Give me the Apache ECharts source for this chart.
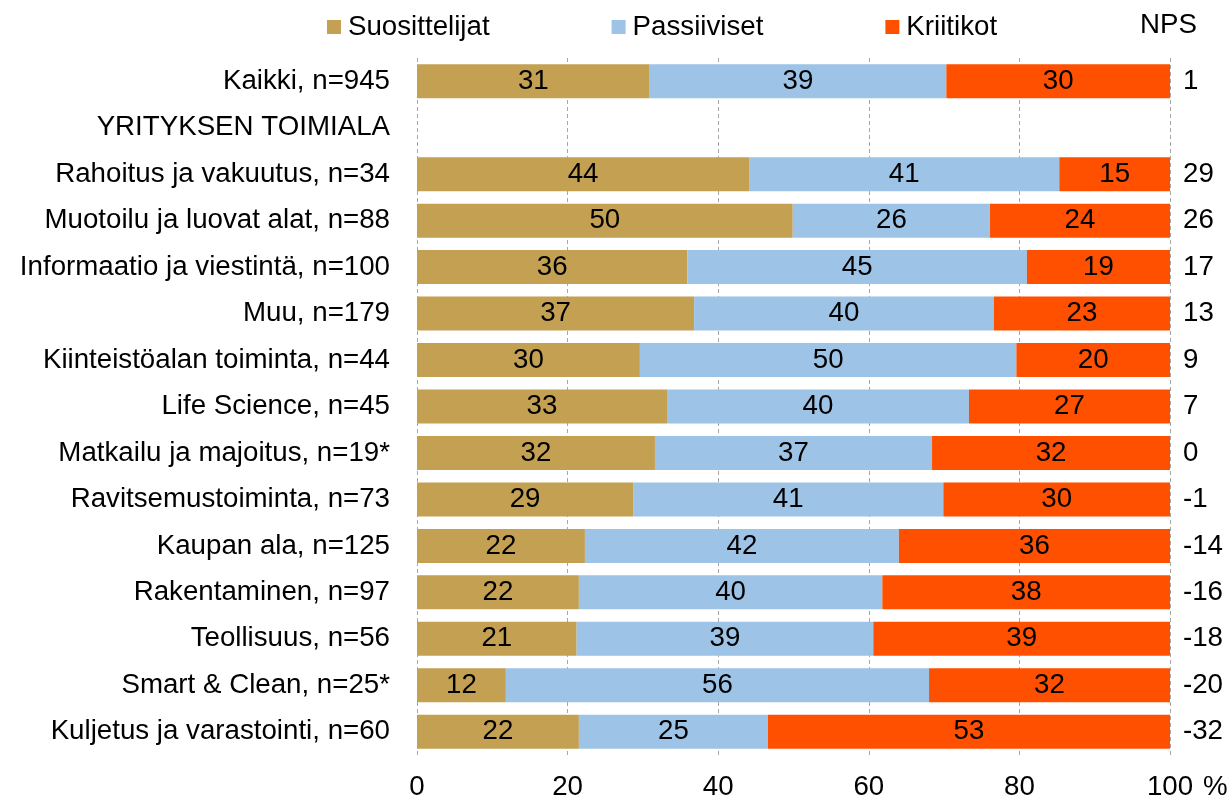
<!DOCTYPE html>
<html>
<head>
<meta charset="utf-8">
<script src="https://cdn.jsdelivr.net/npm/echarts@6/dist/echarts.min.js"></script>
<style>
  html, body { margin: 0; padding: 0; background: #fff; }
  #chart { width: 1228px; height: 801px; }
</style>
</head>
<body>
<div id="chart"></div>
<script>
// rivit ylhäältä alas
const categories = [
  'Kaikki, n=945', 'YRITYKSEN TOIMIALA', 'Rahoitus ja vakuutus, n=34',
  'Muotoilu ja luovat alat, n=88', 'Informaatio ja viestintä, n=100', 'Muu, n=179',
  'Kiinteistöalan toiminta, n=44', 'Life Science, n=45', 'Matkailu ja majoitus, n=19*',
  'Ravitsemustoiminta, n=73', 'Kaupan ala, n=125', 'Rakentaminen, n=97',
  'Teollisuus, n=56', 'Smart & Clean, n=25*', 'Kuljetus ja varastointi, n=60'
];
const suosittelijat = [30.9, null, 44.1, 49.9, 35.9, 36.8, 29.6, 33.2, 31.6, 28.7, 22.3, 21.5, 21.2, 11.8, 21.5];
const passiiviset   = [39.4, null, 41.2, 26.2, 45.1, 39.8, 50.0, 40.1, 36.8, 41.2, 41.7, 40.3, 39.4, 56.2, 25.1];
const kriitikot     = [29.7, null, 14.7, 23.9, 19.0, 23.4, 20.4, 26.7, 31.6, 30.1, 36.0, 38.2, 39.4, 32.0, 53.4];
const nps = ['1', '', '29', '26', '17', '13', '9', '7', '0', '-1', '-14', '-16', '-18', '-20', '-32'];

const font = "'Liberation Sans', Arial, sans-serif";
const fs = 27.7;
const chart = echarts.init(document.getElementById('chart'));

function barSeries(name, data, color) {
  return {
    name: name,
    type: 'bar',
    stack: 'nps',
    data: data,
    barWidth: 34,
    itemStyle: { color: color },
    label: {
      show: true,
      position: 'inside',
      color: '#000',
      fontSize: fs,
      fontFamily: font,
      formatter: p => p.value == null ? '' : Math.round(p.value)
    }
  };
}

chart.setOption({
  animation: false,
  textStyle: { fontFamily: font },
  legend: {
    left: 322,
    top: 8,
    itemWidth: 14,
    itemHeight: 14,
    itemGap: 122,
    icon: 'rect',
    textStyle: { fontSize: fs, color: '#000', fontFamily: font, padding: [0, 0, 0, 2] },
    data: ['Suosittelijat', 'Passiiviset', 'Kriitikot']
  },
  title: {
    text: 'NPS',
    left: 1135,
    top: 6,
    textStyle: { fontSize: fs, fontWeight: 'normal', color: '#000', fontFamily: font }
  },
  grid: { left: 417, right: 58, top: 58, bottom: 46, outerBoundsMode: 'none' },
  xAxis: {
    type: 'value',
    min: 0,
    max: 100,
    interval: 20,
    axisLine: { show: false },
    axisTick: { show: false },
    axisLabel: { fontSize: fs, color: '#000', margin: 18, fontFamily: font },
    splitLine: { lineStyle: { color: '#a6a6a6', type: [4, 3], width: 1 } },
    name: '%',
    nameLocation: 'end',
    nameGap: 33,
    nameTextStyle: { fontSize: fs, color: '#000', fontFamily: font, verticalAlign: 'top', padding: [18, 0, 0, 0] }
  },
  yAxis: [
    {
      type: 'category',
      inverse: true,
      data: categories,
      axisLine: { show: false },
      axisTick: { show: false },
      axisLabel: { fontSize: fs, color: '#000', margin: 27, fontFamily: font }
    },
    {
      type: 'category',
      inverse: true,
      position: 'right',
      data: nps,
      axisLine: { show: false },
      axisTick: { show: false },
      axisLabel: { fontSize: fs, color: '#000', margin: 13, fontFamily: font }
    }
  ],
  series: [
    barSeries('Suosittelijat', suosittelijat, '#c4a052'),
    barSeries('Passiiviset', passiiviset, '#9dc3e6'),
    barSeries('Kriitikot', kriitikot, '#ff5000')
  ]
});
</script>
</body>
</html>
